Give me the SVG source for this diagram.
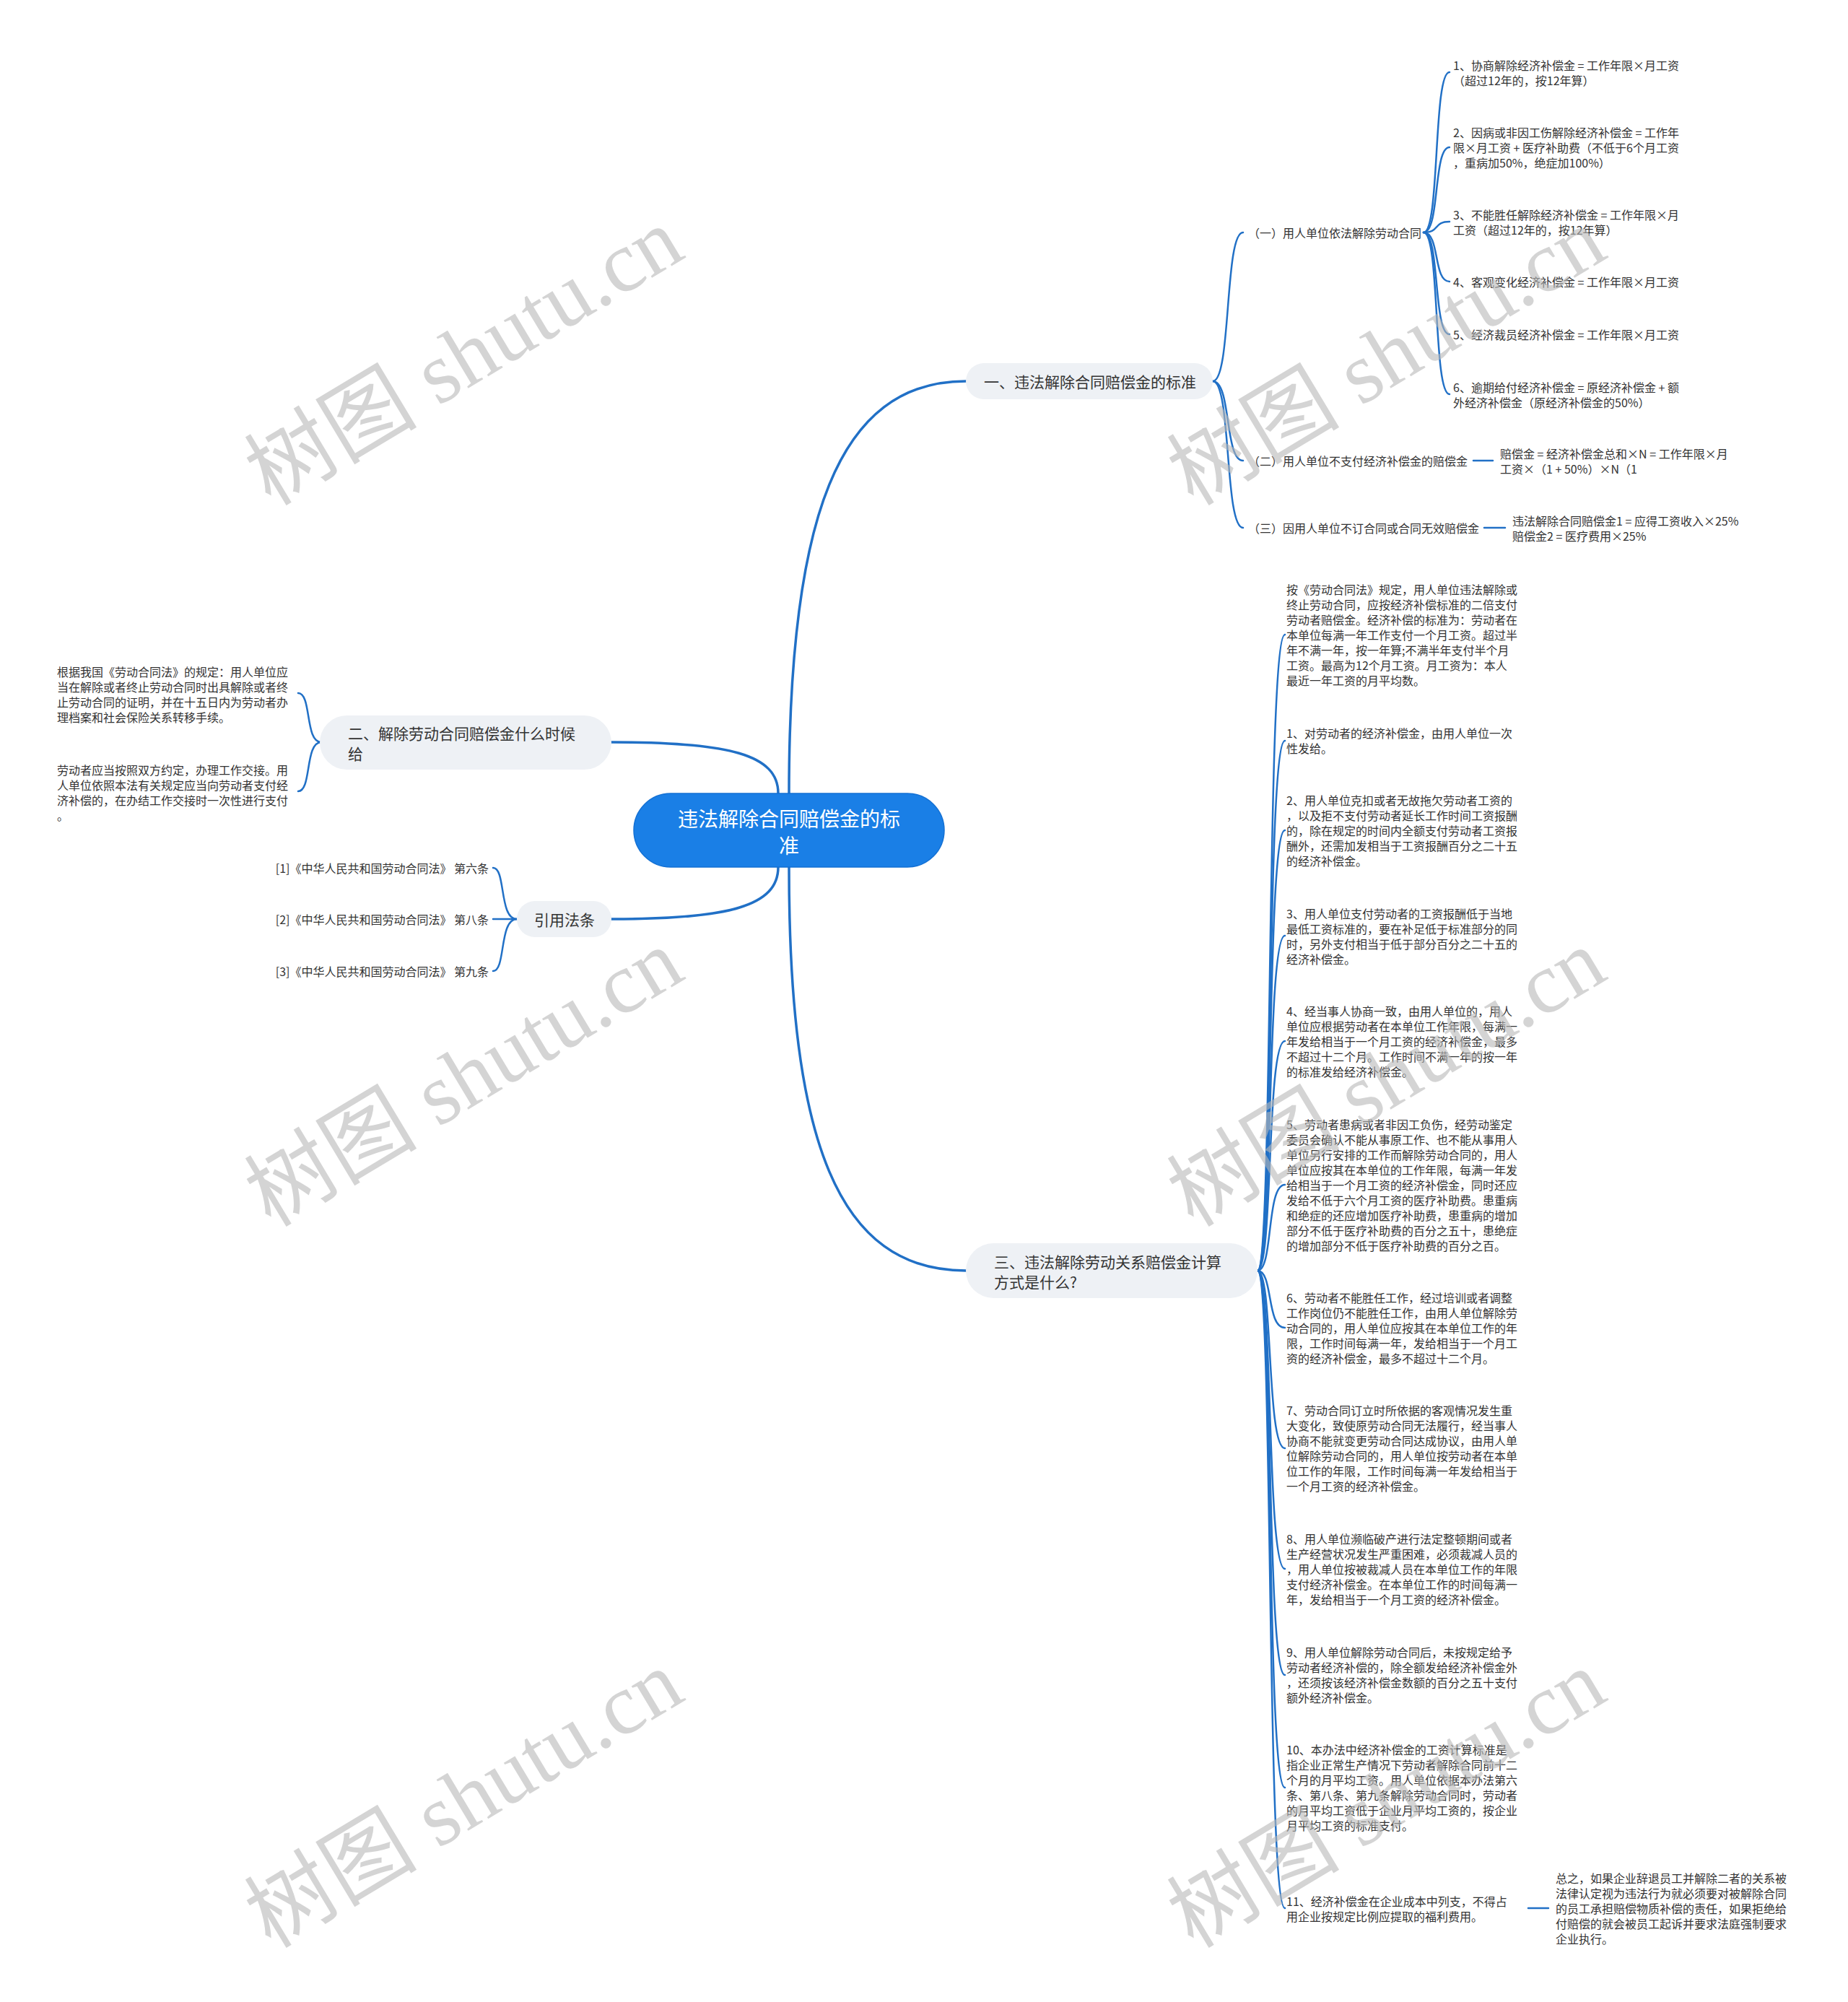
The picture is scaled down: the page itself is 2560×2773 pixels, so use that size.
<svg xmlns="http://www.w3.org/2000/svg" width="2560" height="2773" viewBox="0 0 2560 2773">
<style>
text{font-family:"Noto Sans CJK SC","Noto Sans",sans-serif;dominant-baseline:central}
.leaf{font-size:16px;fill:#333}
.br{font-size:21px;fill:#333}
.root{font-size:28px;fill:#fff}
.conn{fill:none;stroke:#2170c6;stroke-width:2.5;stroke-linecap:round}
.main{stroke-width:3.5}
.bnode{fill:#eef1f5}
.wm{font-family:"Liberation Serif","Noto Sans CJK SC",serif;font-size:120px;fill:#b8b8b8;opacity:0.6;dominant-baseline:auto}
</style>
<rect width="2560" height="2773" fill="#fff"/>
<g id="connectors">
<path class="conn main" d="M1093 1099 C1093 720 1160 528 1338 528"/>
<path class="conn main" d="M1078 1099 C1078 1045 1010 1028 847 1028"/>
<path class="conn main" d="M1078 1201 C1078 1255 1010 1273 847 1273"/>
<path class="conn main" d="M1093 1201 C1093 1580 1160 1760 1338 1760"/>
<path class="conn" d="M1680 528 C1706 528 1696 322 1722 322"/>
<path class="conn" d="M1680 528 C1706 528 1696 638 1722 638"/>
<path class="conn" d="M1680 528 C1706 528 1696 731 1722 731"/>
<path class="conn" d="M1972 322 C1995 322 1985 100 2008 100"/>
<path class="conn" d="M1972 322 C1995 322 1985 204 2008 204"/>
<path class="conn" d="M1972 322 C1995 322 1985 307 2008 307"/>
<path class="conn" d="M1972 322 C1995 322 1985 390 2008 390"/>
<path class="conn" d="M1972 322 C1995 322 1985 463 2008 463"/>
<path class="conn" d="M1972 322 C1995 322 1985 546 2008 546"/>
<path class="conn" d="M2041 638 L2068 638"/>
<path class="conn" d="M2056 731 L2085 731"/>
<path class="conn" d="M445 1028 C422 1028 432 960 413 960"/>
<path class="conn" d="M445 1028 C422 1028 432 1096 413 1096"/>
<path class="conn" d="M716 1273 C691 1273 701 1202 683 1202"/>
<path class="conn" d="M716 1273 L683 1273"/>
<path class="conn" d="M716 1273 C691 1273 701 1345 683 1345"/>
<path class="conn" d="M1742 1760 C1764 1760 1754 879 1780 879"/>
<path class="conn" d="M1742 1760 C1764 1760 1754 1026 1780 1026"/>
<path class="conn" d="M1742 1760 C1764 1760 1754 1150 1780 1150"/>
<path class="conn" d="M1742 1760 C1764 1760 1754 1296 1780 1296"/>
<path class="conn" d="M1742 1760 C1764 1760 1754 1442 1780 1442"/>
<path class="conn" d="M1742 1760 C1764 1760 1754 1641 1780 1641"/>
<path class="conn" d="M1742 1760 C1764 1760 1754 1839 1780 1839"/>
<path class="conn" d="M1742 1760 C1764 1760 1754 2006 1780 2006"/>
<path class="conn" d="M1742 1760 C1764 1760 1754 2173 1780 2173"/>
<path class="conn" d="M1742 1760 C1764 1760 1754 2320 1780 2320"/>
<path class="conn" d="M1742 1760 C1764 1760 1754 2476 1780 2476"/>
<path class="conn" d="M1742 1760 C1764 1760 1754 2643 1780 2643"/>
<path class="conn" d="M2117 2643 L2145 2643"/>
</g>
<g id="root">
<rect x="878" y="1099" width="430" height="102" rx="51" fill="#1a7fe6" stroke="#1370d4" stroke-width="1.5"/>
<text class="root" x="1093" y="1133" text-anchor="middle">违法解除合同赔偿金的标</text>
<text class="root" x="1093" y="1170" text-anchor="middle">准</text>
</g>
<g id="b1">
<rect class="bnode" x="1338" y="503" width="342" height="50" rx="25"/>
<text class="br" x="1363" y="528">一、违法解除合同赔偿金的标准</text>
</g>
<g id="b1-1"><text class="leaf" x="1729" y="322">（一）用人单位依法解除劳动合同</text></g>
<g id="b1-1-1"><text class="leaf" x="2013" y="90"><tspan x="2013">1、协商解除经济补偿金 = 工作年限×月工资</tspan><tspan x="2013" dy="21">（超过12年的，按12年算）</tspan></text></g>
<g id="b1-1-2"><text class="leaf" x="2013" y="183"><tspan x="2013">2、因病或非因工伤解除经济补偿金 = 工作年</tspan><tspan x="2013" dy="21">限×月工资 + 医疗补助费（不低于6个月工资</tspan><tspan x="2013" dy="21">，重病加50%，绝症加100%）</tspan></text></g>
<g id="b1-1-3"><text class="leaf" x="2013" y="297"><tspan x="2013">3、不能胜任解除经济补偿金 = 工作年限×月</tspan><tspan x="2013" dy="21">工资（超过12年的，按12年算）</tspan></text></g>
<g id="b1-1-4"><text class="leaf" x="2013" y="390">4、客观变化经济补偿金 = 工作年限×月工资</text></g>
<g id="b1-1-5"><text class="leaf" x="2013" y="463">5、经济裁员经济补偿金 = 工作年限×月工资</text></g>
<g id="b1-1-6"><text class="leaf" x="2013" y="536"><tspan x="2013">6、逾期给付经济补偿金 = 原经济补偿金 + 额</tspan><tspan x="2013" dy="21">外经济补偿金（原经济补偿金的50%）</tspan></text></g>
<g id="b1-2"><text class="leaf" x="1729" y="638">（二）用人单位不支付经济补偿金的赔偿金</text></g>
<g id="b1-2-1"><text class="leaf" x="2078" y="628"><tspan x="2078">赔偿金 = 经济补偿金总和×N = 工作年限×月</tspan><tspan x="2078" dy="21">工资×（1 + 50%）×N（1</tspan></text></g>
<g id="b1-3"><text class="leaf" x="1729" y="731">（三）因用人单位不订合同或合同无效赔偿金</text></g>
<g id="b1-3-1"><text class="leaf" x="2095" y="721"><tspan x="2095">违法解除合同赔偿金1 = 应得工资收入×25%</tspan><tspan x="2095" dy="21">赔偿金2 = 医疗费用×25%</tspan></text></g>
<g id="b2">
<rect class="bnode" x="443" y="991" width="404" height="75" rx="37.5"/>
<text class="br" x="482" y="1015"><tspan x="482">二、解除劳动合同赔偿金什么时候</tspan><tspan x="482" dy="28">给</tspan></text>
</g>
<g id="b2-1"><text class="leaf" x="79" y="930"><tspan x="79">根据我国《劳动合同法》的规定：用人单位应</tspan><tspan x="79" dy="21">当在解除或者终止劳动合同时出具解除或者终</tspan><tspan x="79" dy="21">止劳动合同的证明，并在十五日内为劳动者办</tspan><tspan x="79" dy="21">理档案和社会保险关系转移手续。</tspan></text></g>
<g id="b2-2"><text class="leaf" x="79" y="1066"><tspan x="79">劳动者应当按照双方约定，办理工作交接。用</tspan><tspan x="79" dy="21">人单位依照本法有关规定应当向劳动者支付经</tspan><tspan x="79" dy="21">济补偿的，在办结工作交接时一次性进行支付</tspan><tspan x="79" dy="21">。</tspan></text></g>
<g id="b3">
<rect class="bnode" x="716" y="1248" width="131" height="50" rx="25"/>
<text class="br" x="782" y="1273" text-anchor="middle">引用法条</text>
</g>
<g id="b3-1"><text class="leaf" x="677" y="1202" text-anchor="end">[1]《中华人民共和国劳动合同法》 第六条</text></g>
<g id="b3-2"><text class="leaf" x="677" y="1273" text-anchor="end">[2]《中华人民共和国劳动合同法》 第八条</text></g>
<g id="b3-3"><text class="leaf" x="677" y="1345" text-anchor="end">[3]《中华人民共和国劳动合同法》 第九条</text></g>
<g id="b4">
<rect class="bnode" x="1338" y="1722" width="404" height="76" rx="38"/>
<text class="br" x="1377" y="1747"><tspan x="1377">三、违法解除劳动关系赔偿金计算</tspan><tspan x="1377" dy="28">方式是什么?</tspan></text>
</g>
<g id="b4-0"><text class="leaf" x="1782" y="816"><tspan x="1782">按《劳动合同法》规定，用人单位违法解除或</tspan><tspan x="1782" dy="21">终止劳动合同，应按经济补偿标准的二倍支付</tspan><tspan x="1782" dy="21">劳动者赔偿金。经济补偿的标准为：劳动者在</tspan><tspan x="1782" dy="21">本单位每满一年工作支付一个月工资。超过半</tspan><tspan x="1782" dy="21">年不满一年，按一年算;不满半年支付半个月</tspan><tspan x="1782" dy="21">工资。最高为12个月工资。月工资为：本人</tspan><tspan x="1782" dy="21">最近一年工资的月平均数。</tspan></text></g>
<g id="b4-1"><text class="leaf" x="1782" y="1015"><tspan x="1782">1、对劳动者的经济补偿金，由用人单位一次</tspan><tspan x="1782" dy="21">性发给。</tspan></text></g>
<g id="b4-2"><text class="leaf" x="1782" y="1108"><tspan x="1782">2、用人单位克扣或者无故拖欠劳动者工资的</tspan><tspan x="1782" dy="21">，以及拒不支付劳动者延长工作时间工资报酬</tspan><tspan x="1782" dy="21">的，除在规定的时间内全额支付劳动者工资报</tspan><tspan x="1782" dy="21">酬外，还需加发相当于工资报酬百分之二十五</tspan><tspan x="1782" dy="21">的经济补偿金。</tspan></text></g>
<g id="b4-3"><text class="leaf" x="1782" y="1265"><tspan x="1782">3、用人单位支付劳动者的工资报酬低于当地</tspan><tspan x="1782" dy="21">最低工资标准的，要在补足低于标准部分的同</tspan><tspan x="1782" dy="21">时，另外支付相当于低于部分百分之二十五的</tspan><tspan x="1782" dy="21">经济补偿金。</tspan></text></g>
<g id="b4-4"><text class="leaf" x="1782" y="1400"><tspan x="1782">4、经当事人协商一致，由用人单位的，用人</tspan><tspan x="1782" dy="21">单位应根据劳动者在本单位工作年限，每满一</tspan><tspan x="1782" dy="21">年发给相当于一个月工资的经济补偿金，最多</tspan><tspan x="1782" dy="21">不超过十二个月。工作时间不满一年的按一年</tspan><tspan x="1782" dy="21">的标准发给经济补偿金。</tspan></text></g>
<g id="b4-5"><text class="leaf" x="1782" y="1557"><tspan x="1782">5、劳动者患病或者非因工负伤，经劳动鉴定</tspan><tspan x="1782" dy="21">委员会确认不能从事原工作、也不能从事用人</tspan><tspan x="1782" dy="21">单位另行安排的工作而解除劳动合同的，用人</tspan><tspan x="1782" dy="21">单位应按其在本单位的工作年限，每满一年发</tspan><tspan x="1782" dy="21">给相当于一个月工资的经济补偿金，同时还应</tspan><tspan x="1782" dy="21">发给不低于六个月工资的医疗补助费。患重病</tspan><tspan x="1782" dy="21">和绝症的还应增加医疗补助费，患重病的增加</tspan><tspan x="1782" dy="21">部分不低于医疗补助费的百分之五十，患绝症</tspan><tspan x="1782" dy="21">的增加部分不低于医疗补助费的百分之百。</tspan></text></g>
<g id="b4-6"><text class="leaf" x="1782" y="1797"><tspan x="1782">6、劳动者不能胜任工作，经过培训或者调整</tspan><tspan x="1782" dy="21">工作岗位仍不能胜任工作，由用人单位解除劳</tspan><tspan x="1782" dy="21">动合同的，用人单位应按其在本单位工作的年</tspan><tspan x="1782" dy="21">限，工作时间每满一年，发给相当于一个月工</tspan><tspan x="1782" dy="21">资的经济补偿金，最多不超过十二个月。</tspan></text></g>
<g id="b4-7"><text class="leaf" x="1782" y="1953"><tspan x="1782">7、劳动合同订立时所依据的客观情况发生重</tspan><tspan x="1782" dy="21">大变化，致使原劳动合同无法履行，经当事人</tspan><tspan x="1782" dy="21">协商不能就变更劳动合同达成协议，由用人单</tspan><tspan x="1782" dy="21">位解除劳动合同的，用人单位按劳动者在本单</tspan><tspan x="1782" dy="21">位工作的年限，工作时间每满一年发给相当于</tspan><tspan x="1782" dy="21">一个月工资的经济补偿金。</tspan></text></g>
<g id="b4-8"><text class="leaf" x="1782" y="2131"><tspan x="1782">8、用人单位濒临破产进行法定整顿期间或者</tspan><tspan x="1782" dy="21">生产经营状况发生严重困难，必须裁减人员的</tspan><tspan x="1782" dy="21">，用人单位按被裁减人员在本单位工作的年限</tspan><tspan x="1782" dy="21">支付经济补偿金。在本单位工作的时间每满一</tspan><tspan x="1782" dy="21">年，发给相当于一个月工资的经济补偿金。</tspan></text></g>
<g id="b4-9"><text class="leaf" x="1782" y="2288"><tspan x="1782">9、用人单位解除劳动合同后，未按规定给予</tspan><tspan x="1782" dy="21">劳动者经济补偿的，除全额发给经济补偿金外</tspan><tspan x="1782" dy="21">，还须按该经济补偿金数额的百分之五十支付</tspan><tspan x="1782" dy="21">额外经济补偿金。</tspan></text></g>
<g id="b4-10"><text class="leaf" x="1782" y="2423"><tspan x="1782">10、本办法中经济补偿金的工资计算标准是</tspan><tspan x="1782" dy="21">指企业正常生产情况下劳动者解除合同前十二</tspan><tspan x="1782" dy="21">个月的月平均工资。用人单位依据本办法第六</tspan><tspan x="1782" dy="21">条、第八条、第九条解除劳动合同时，劳动者</tspan><tspan x="1782" dy="21">的月平均工资低于企业月平均工资的，按企业</tspan><tspan x="1782" dy="21">月平均工资的标准支付。</tspan></text></g>
<g id="b4-11"><text class="leaf" x="1782" y="2633"><tspan x="1782">11、经济补偿金在企业成本中列支，不得占</tspan><tspan x="1782" dy="21">用企业按规定比例应提取的福利费用。</tspan></text></g>
<g id="b4-11-1"><text class="leaf" x="2155" y="2601"><tspan x="2155">总之，如果企业辞退员工并解除二者的关系被</tspan><tspan x="2155" dy="21">法律认定视为违法行为就必须要对被解除合同</tspan><tspan x="2155" dy="21">的员工承担赔偿物质补偿的责任，如果拒绝给</tspan><tspan x="2155" dy="21">付赔偿的就会被员工起诉并要求法庭强制要求</tspan><tspan x="2155" dy="21">企业执行。</tspan></text></g>
<g id="watermarks">
<text class="wm" transform="translate(375 702) rotate(-31)">树图 shutu.cn</text>
<text class="wm" transform="translate(1653 702) rotate(-31)">树图 shutu.cn</text>
<text class="wm" transform="translate(375 1701) rotate(-31)">树图 shutu.cn</text>
<text class="wm" transform="translate(1653 1701) rotate(-31)">树图 shutu.cn</text>
<text class="wm" transform="translate(375 2700) rotate(-31)">树图 shutu.cn</text>
<text class="wm" transform="translate(1653 2700) rotate(-31)">树图 shutu.cn</text>
</g>
</svg>
